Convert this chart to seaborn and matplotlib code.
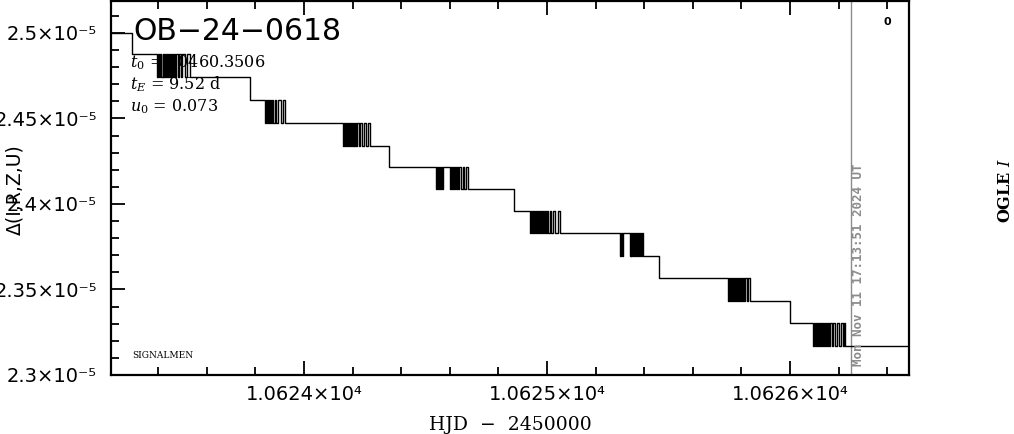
import matplotlib
matplotlib.use('Agg')
import matplotlib.pyplot as plt
from matplotlib.ticker import MultipleLocator, FuncFormatter
import seaborn as sns

# flux quantisation levels (units of 1e-5)
levels = [2.5000, 2.4878, 2.4743, 2.4609, 2.4475, 2.4341, 2.4213, 2.4085,
          2.3956, 2.3828, 2.3694, 2.3566, 2.3431, 2.3303, 2.3169]

# HJD - 2450000 of every point, grouped by night
hjd = [10623.206, 10623.292,
       10623.395, 10623.399, 10623.403, 10623.407, 10623.413, 10623.418, 10623.422,
       10623.426, 10623.430, 10623.434, 10623.438, 10623.442, 10623.446, 10623.450,
       10623.454, 10623.458, 10623.462, 10623.466, 10623.470, 10623.474, 10623.480,
       10623.486, 10623.493, 10623.500, 10623.510, 10623.520, 10623.531,
       10623.778,
       10623.840, 10623.844, 10623.848, 10623.852, 10623.856, 10623.860, 10623.864,
       10623.868, 10623.874, 10623.880, 10623.887, 10623.895, 10623.904, 10623.913,
       10623.922,
       10624.160, 10624.164, 10624.168, 10624.172, 10624.176, 10624.180, 10624.184,
       10624.188, 10624.192, 10624.196, 10624.200, 10624.204, 10624.208, 10624.212,
       10624.216, 10624.220, 10624.226, 10624.232, 10624.238, 10624.246, 10624.254,
       10624.263, 10624.272,
       10624.350,
       10624.543, 10624.547, 10624.551, 10624.555, 10624.559, 10624.563, 10624.567,
       10624.571, 10624.601, 10624.605, 10624.609, 10624.613, 10624.617, 10624.621,
       10624.625, 10624.629, 10624.634, 10624.640, 10624.646, 10624.653, 10624.660,
       10624.667, 10624.675,
       10624.864,
       10624.930, 10624.934, 10624.938, 10624.942, 10624.946, 10624.950, 10624.954,
       10624.958, 10624.962, 10624.966, 10624.970, 10624.974, 10624.978, 10624.982,
       10624.986, 10624.990, 10624.995, 10625.000, 10625.005, 10625.011, 10625.017,
       10625.025, 10625.035, 10625.044, 10625.053,
       10625.300, 10625.304, 10625.308, 10625.313, 10625.340, 10625.344, 10625.348,
       10625.352, 10625.356, 10625.360, 10625.364, 10625.368, 10625.372, 10625.376,
       10625.380, 10625.384, 10625.388, 10625.391, 10625.395,
       10625.461,
       10625.745, 10625.749, 10625.753, 10625.757, 10625.761, 10625.765, 10625.769,
       10625.773, 10625.777, 10625.781, 10625.785, 10625.789, 10625.793, 10625.797,
       10625.801, 10625.806, 10625.811, 10625.817, 10625.823, 10625.829, 10625.835,
       10626.000,
       10626.095, 10626.099, 10626.103, 10626.107, 10626.111, 10626.115, 10626.119,
       10626.123, 10626.127, 10626.131, 10626.135, 10626.139, 10626.143, 10626.147,
       10626.151, 10626.156, 10626.161, 10626.166, 10626.172, 10626.178, 10626.185,
       10626.192, 10626.200, 10626.209, 10626.218, 10626.222, 10626.226,
       10626.490]

# level index of every point (same grouping)
lev = [0, 1,
       2, 1, 2, 1, 2, 1, 2, 1, 2, 1, 2, 1, 2, 1, 2, 1, 2, 1, 2, 1, 2, 1, 2, 1, 2, 1, 2,
       3,
       4, 3, 4, 3, 4, 3, 4, 3, 4, 3, 4, 3, 4, 3, 4,
       5, 4, 5, 4, 5, 4, 5, 4, 5, 4, 5, 4, 5, 4, 5, 4, 5, 4, 5, 4, 5, 4, 5,
       6,
       7, 6, 7, 6, 7, 6, 7, 6, 7, 6, 7, 6, 7, 6, 7, 6, 7, 6, 7, 6, 7, 6, 7,
       8,
       9, 8, 9, 8, 9, 8, 9, 8, 9, 8, 9, 8, 9, 8, 9, 8, 9, 8, 9, 8, 9, 8, 9, 8, 9,
       10, 9, 10, 9, 10, 9, 10, 9, 10, 9, 10, 9, 10, 9, 10, 9, 10, 9, 10,
       11,
       12, 11, 12, 11, 12, 11, 12, 11, 12, 11, 12, 11, 12, 11, 12, 11, 12, 11, 12, 11, 12,
       13,
       14, 13, 14, 13, 14, 13, 14, 13, 14, 13, 14, 13, 14, 13, 14, 13, 14, 13, 14, 13, 14,
       13, 14, 13, 14, 13, 14,
       14]
flux = [levels[i] for i in lev]

x_range = (10623.206, 10626.490)
y_range = (2.3, 2.5187)
now_hjd = 10626.251
now_label = 'Mon Nov 11 17:13:51 2024 UT'
event = 'OB\u221224\u22120618'
fit_lines = ['$t_0$ = 10460.3506', '$t_E$ = 9.52 d', '$u_0$ = 0.073']

sns.set_theme(style='ticks')
plt.rcParams['font.family'] = ['DejaVu Sans']
plt.rcParams['mathtext.fontset'] = 'dejavuserif'
plt.rcParams['text.color'] = 'black'
plt.rcParams['xtick.color'] = 'black'
plt.rcParams['ytick.color'] = 'black'

fig = plt.figure(figsize=(10.14, 4.34), dpi=100)
ax = fig.add_axes([111 / 1014, 1 - 375 / 434, 798 / 1014, 375 / 434 - 0.002])

sns.lineplot(x=hjd, y=flux, estimator=None, sort=False, drawstyle='steps-post',
             color='black', linewidth=1.0, ax=ax, zorder=3)
ax.axvline(now_hjd, color='#8c8c8c', lw=1.0, zorder=2)

ax.set_xlim(*x_range)
ax.set_ylim(*y_range)
ax.xaxis.set_major_locator(MultipleLocator(1))
ax.xaxis.set_minor_locator(MultipleLocator(0.2))
ax.yaxis.set_major_locator(MultipleLocator(0.05))
ax.yaxis.set_minor_locator(MultipleLocator(0.01))
ax.xaxis.set_major_formatter(FuncFormatter(lambda v, _: f'{v / 1e4:.5g}\u00d710\u2074'))
ax.yaxis.set_major_formatter(FuncFormatter(lambda v, _: f'{v:.3g}\u00d710\u207b\u2075'))

ax.tick_params(which='both', direction='in', top=True, right=False,
               width=1.3, labelsize=14, labelcolor='black')
ax.tick_params(which='major', length=10)
ax.tick_params(which='minor', length=5.5)
ax.tick_params(axis='y', which='major', pad=10)
ax.tick_params(axis='x', which='major', pad=7)
for s in ax.spines.values():
    s.set_linewidth(1.6)
    s.set_color('black')
ax.set_xlabel('')
ax.set_ylabel('')

# text labels
fig.text(133 / 1014, 1 - 31 / 434, event, fontsize=21.5, va='center', ha='left',
         color='black')
for i, t in enumerate(fit_lines):
    ax.text(130 / 1014, 1 - (62 + i * 22.5) / 434, t, transform=fig.transFigure,
            fontsize=11.5, family='DejaVu Serif', va='center', ha='left', zorder=1,
            color='black')
ax.text(132 / 1014, 1 - 355 / 434, 'SIGNALMEN', transform=fig.transFigure,
        fontsize=6.5, family='DejaVu Serif', va='center', ha='left', color='black')
fig.text(887 / 1014, 1 - 22 / 434, '0', fontsize=8, fontweight='bold',
         va='center', ha='center', color='black')
fig.text(858 / 1014, 1 - 366 / 434, now_label, rotation=90, color='#8c8c8c',
         family='DejaVu Sans Mono', fontweight='bold', fontsize=9,
         va='bottom', ha='center')
fig.text(510 / 1014, 1 - 425 / 434, 'HJD  \u2212  2450000', fontsize=13.5,
         family='DejaVu Serif', ha='center', va='center', color='black')
fig.text(15 / 1014, 1 - 190 / 434, '\u0394(I,R,Z,U)', rotation=90, fontsize=13.5,
         ha='center', va='center', color='black')
fig.text(1005 / 1014, 1 - 190 / 434, r'OGLE $\mathit{I}$', rotation=90, fontsize=11.5,
         family='DejaVu Serif', fontweight='bold', ha='center', va='center',
         color='black')

fig.savefig('out.png', dpi=100)
